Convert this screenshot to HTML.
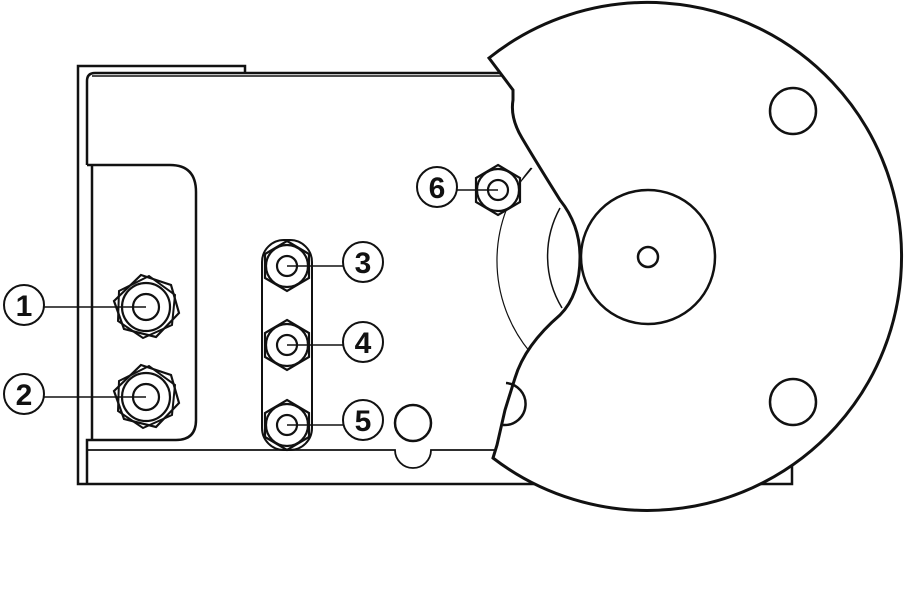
<!DOCTYPE html>
<html><head><meta charset="utf-8"><style>
html,body{margin:0;padding:0;background:#fff;}
svg{display:block;}
text{font-family:"Liberation Sans",sans-serif;font-weight:bold;font-size:30px;fill:#111;text-anchor:middle;}
</style></head><body>
<svg width="904" height="600" viewBox="0 0 904 600" xmlns="http://www.w3.org/2000/svg">
<defs>
<g id="nutS"><polygon points="0,-25 22,-12 22,12 0,25 -22,12 -22,-12" fill="#fff" stroke="#111" stroke-width="2.2"/>
<circle r="21" fill="none" stroke="#111" stroke-width="2.2"/><circle r="10" fill="none" stroke="#111" stroke-width="2.2"/></g>
<g id="nutL"><polygon points="-5,-32 25,-22 33,6 10,30 -22,22 -32,-6" fill="#fff" stroke="#111" stroke-width="2.2"/>
<polygon points="3,-31 29,-12 26,18 -3,31 -28,14 -27,-16" fill="none" stroke="#111" stroke-width="2"/>
<circle r="24" fill="none" stroke="#111" stroke-width="2.2"/><circle r="13" fill="none" stroke="#111" stroke-width="2.2"/></g>
</defs>
<g fill="none" stroke="#111" stroke-width="2.5">
<polyline points="245,72 245,66 78,66 78,484 540,484"/>
<path d="M500,73 L95,73 Q87,73 87,81 L87,165"/>
<line x1="92" y1="76" x2="505" y2="76" stroke-width="1.5"/>
<path d="M87,165 L170,165 Q196,165 196,192 L196,420 Q196,440 176,440 L87,440 L87,484"/>
<line x1="92" y1="165" x2="92" y2="440"/>
<path d="M87,450 L395,450 A18,18 0 0 0 431,450 L500,450" stroke-width="1.8"/>
<circle cx="413" cy="423" r="18"/>
<rect x="262" y="240" width="50" height="210" rx="22" stroke-width="2"/>
<polyline points="700,484 792,484 792,462 770,462"/>
<path d="M531,168 A143,143 0 0 0 530,352" stroke-width="1.2"/>
<path d="M560,208 A100,100 0 0 0 562,308" stroke-width="1.5"/>
<line x1="522" y1="180" x2="532" y2="168" stroke-width="1.2"/>
</g>
<path d="M489,58 A254,254 0 1 1 493,458 L497,445 L505,410 L515,378 Q525,345 560,315 Q580,295 580,257 Q580,225 560,200 Q535,160 522,138 Q510,118 513,100 L513,90 Z" fill="#fff" stroke="#111" stroke-width="3"/>
<g fill="none" stroke="#111" stroke-width="2.5">
<path d="M506,383 A21,21 0 0 1 503,425"/>
<circle cx="648" cy="257" r="67"/>
<circle cx="648" cy="257" r="10"/>
<circle cx="793" cy="111" r="23"/>
<circle cx="793" cy="402" r="23"/>
</g>
<use href="#nutL" x="146" y="307"/>
<use href="#nutL" x="146" y="397"/>
<use href="#nutS" x="287" y="266"/>
<use href="#nutS" x="287" y="345"/>
<use href="#nutS" x="287" y="425"/>
<use href="#nutS" x="498" y="190"/>
<g stroke="#111" stroke-width="1.6">
<line x1="44" y1="307" x2="146" y2="307"/>
<line x1="44" y1="397" x2="146" y2="397"/>
<line x1="287" y1="266" x2="343" y2="266"/>
<line x1="287" y1="345" x2="343" y2="345"/>
<line x1="287" y1="425" x2="343" y2="425"/>
<line x1="457" y1="190" x2="498" y2="190"/>
</g>
<g fill="#fff" stroke="#111" stroke-width="2">
<circle cx="24" cy="305" r="20"/><circle cx="24" cy="394" r="20"/>
<circle cx="363" cy="262" r="20"/><circle cx="363" cy="342" r="20"/>
<circle cx="363" cy="420" r="20"/><circle cx="437" cy="187" r="20"/>
</g>
<text x="24" y="316">1</text><text x="24" y="405">2</text>
<text x="363" y="273">3</text><text x="363" y="353">4</text>
<text x="363" y="431">5</text><text x="437" y="198">6</text>
</svg>
</body></html>
